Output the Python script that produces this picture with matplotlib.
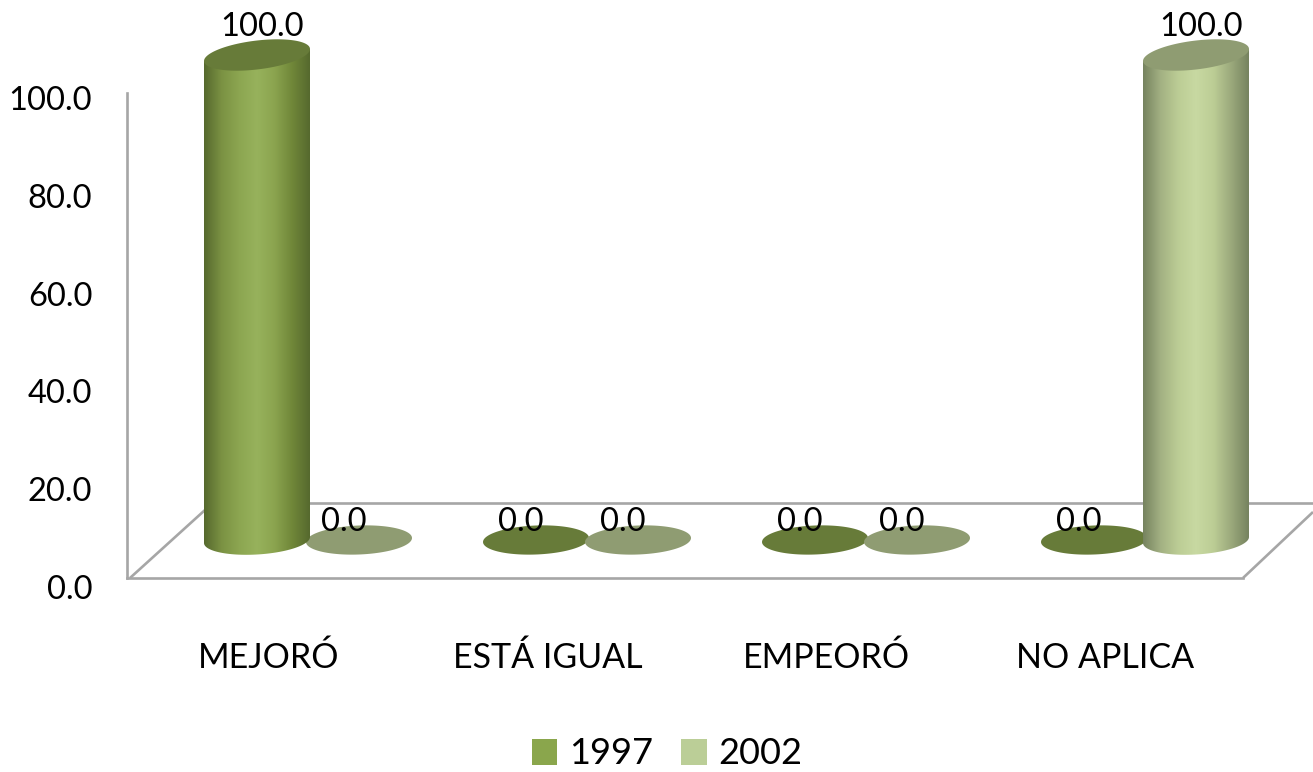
import numpy as np
from matplotlib import pyplot as plt
from matplotlib.colors import LinearSegmentedColormap
from matplotlib.patches import Patch, PathPatch, Polygon
from matplotlib.path import Path
from matplotlib.transforms import ScaledTranslation

plt.rcParams['font.family'] = ['Lato', 'DejaVu Sans']

categories = ['MEJORÓ', 'ESTÁ IGUAL', 'EMPEORÓ', 'NO APLICA']
years = ['1997', '2002']
values_1997 = [100.0, 0.0, 0.0, 0.0]
values_2002 = [0.0, 0.0, 0.0, 100.0]
y_ticks = [0, 20, 40, 60, 80, 100]

W, H = 1313, 772
px_x = 4 * 1 / 1116.   # x units per pixel
px_y = 100 / 485.      # y units per pixel

bar_half = 53 * px_x
ell_h = 29 * px_y
base_y = 38 * px_y     # bars stand in the middle of the floor
shift_x = 41.5 * px_x
offset = 102 * px_x / 2

fig = plt.figure(figsize=(W / 100, H / 100), dpi=100, facecolor='white')
ax = fig.add_axes([127 / W, 1 - 578 / H, 1116 / W, 485 / H])


def ell_points(xc, yc, tilt, t):
    # ellipse seen in perspective, right end a bit higher than the left end
    xs = xc + bar_half * np.cos(t)
    ys = yc + ell_h / 2 * np.sin(t) + tilt * px_y * np.cos(t)
    return np.column_stack([xs, ys])


def cylinder(xc, val, col_body, col_top, col_flat):
    full = np.linspace(0, 2 * np.pi, 120)
    if val == 0:
        ax.add_patch(Polygon(ell_points(xc, base_y, 2, full), fc=col_flat, ec='none',
                             clip_on=False, zorder=3))
        return
    top = base_y + val
    low = ell_points(xc, base_y, 3, np.linspace(np.pi, 2 * np.pi, 60))
    high = ell_points(xc, top, 6, np.array([0, np.pi]))
    verts = np.vstack([low, high, low[:1]])
    body = PathPatch(Path(verts), fc='none', ec='none', transform=ax.transData, clip_on=False)
    ax.add_patch(body)
    cmap = LinearSegmentedColormap.from_list('c', col_body)
    img = ax.imshow(np.linspace(0, 1, 256).reshape(1, -1), cmap=cmap, aspect='auto',
                    extent=(xc - bar_half, xc + bar_half, base_y - ell_h, top + ell_h), zorder=4,
                    interpolation='bilinear')
    # image is taller than the axes box, so clip to the figure and the cylinder only
    img.set_clip_box(fig.bbox)
    img.set_clip_path(body)
    ax.add_patch(Polygon(ell_points(xc, top, 6, full), fc=col_top, ec='none',
                         clip_on=False, zorder=5))


body_1997 = ['#56692e', '#7b9243', '#8ca651', '#97b25c', '#8ba44f', '#708739', '#56692e']
body_2002 = ['#76835f', '#a3b183', '#bccd95', '#c8d9a2', '#bccd95', '#9ba97c', '#76835f']

for i in range(len(categories)):
    cylinder(i + shift_x - offset, values_1997[i], body_1997, '#677b39', '#677b39')
    cylinder(i + shift_x + offset, values_2002[i], body_2002, '#8f9c72', '#8f9c72')

# data labels
for i in range(len(categories)):
    for val, sign in ((values_1997[i], -1), (values_2002[i], 1)):
        xc = i + shift_x + sign * offset
        if val > 0:
            xy_off, y_px = 5, 13
        else:
            xy_off, y_px = -15, 3
        ax.annotate('%.1f' % val, (xc, base_y + val), xytext=(xy_off * .72, y_px * .72),
                    textcoords='offset points', ha='center', va='bottom', fontsize=23.5,
                    color='black', annotation_clip=False, zorder=7)

# floor of the 3d box
line = dict(color='#a6a6a6', lw=1.9, clip_on=False, zorder=1, solid_capstyle='butt')
ax.plot([-0.5 + 3 * px_x, -0.5 + 78 * px_x], [0, 68 * px_y], **line)
ax.plot([-0.5 + 78 * px_x, 3.5 + 70 * px_x], [75 * px_y, 75 * px_y], **line)
ax.plot([3.5, 3.5 + 70 * px_x], [0, 66 * px_y], **line)

ax.set_xlim(-0.5, 3.5)
ax.set_ylim(0, 100)
ax.set_xticks(range(len(categories)))
ax.set_xticklabels(categories, fontsize=24.5)
ax.set_yticks(y_ticks)
ax.set_yticklabels(['%.1f' % v for v in y_ticks], fontsize=23.5)
ax.tick_params(axis='x', length=0, pad=46)
ax.tick_params(axis='y', length=0, pad=25)
for lab, v in zip(ax.get_yticklabels(), y_ticks):
    dy = (9 - 4 * v / 100) / 100
    lab.set_transform(lab.get_transform() + ScaledTranslation(0, -dy, fig.dpi_scale_trans))
for lab in ax.get_xticklabels():
    lab.set_transform(lab.get_transform() + ScaledTranslation(0.02, 0, fig.dpi_scale_trans))

for s in ('top', 'right'):
    ax.spines[s].set_visible(False)
for s in ('left', 'bottom'):
    ax.spines[s].set_color('#a6a6a6')
    ax.spines[s].set_linewidth(1.9)

handles = [Patch(fc='#8aa64c', ec='none', label=years[0]),
           Patch(fc='#bbce97', ec='none', label=years[1])]
fig.legend(handles=handles, loc='center', bbox_to_anchor=(667 / W, 1 - 754 / H), ncol=2,
           frameon=False, fontsize=26, handlelength=0.7, handleheight=0.7,
           handletextpad=0.32, columnspacing=0.79)

fig.savefig('out.png', dpi=100)
